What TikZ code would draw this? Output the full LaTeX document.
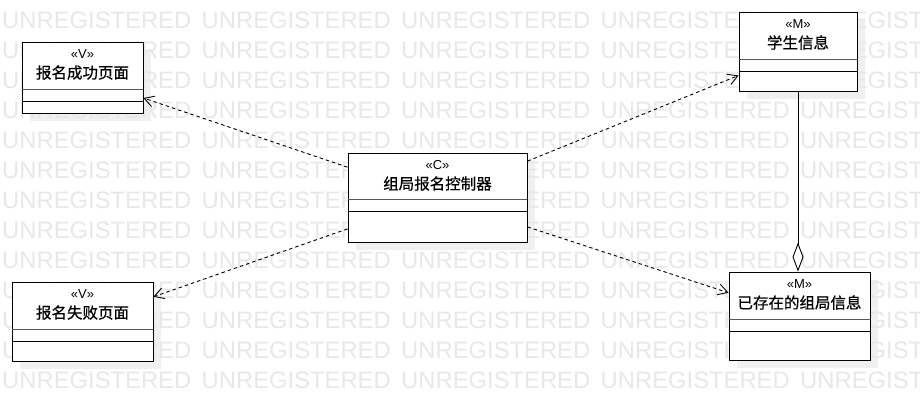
\documentclass[tikz,border=0pt]{standalone}
\usepackage{fontspec}
\setmainfont{Liberation Sans}
\newfontfamily\cjk[FakeBold=0.6]{Noto Sans CJK SC}
\usetikzlibrary{arrows.meta}
\pgfdeclarelayer{bg}
\pgfsetlayers{bg,main}
\tikzset{
  umlbox/.style={draw=black, fill=white, line width=0.9pt, inner sep=0pt, rectangle},
  stereo/.style={font=\fontsize{13}{14}\selectfont, inner sep=0pt, text=black},
  cname/.style={font=\cjk\fontsize{15.5}{17}\selectfont, inner sep=0pt, text=black},
  divA/.style={line width=1.4pt, draw=black!65},
  divB/.style={line width=0.9pt, draw=black},
  shade/.style={fill=black!6},
  wmark/.style={font=\fontsize{23.8}{24}\selectfont, text=black!9, anchor=west, inner sep=0pt},
  dep/.style={draw=black, line width=0.9pt, dash pattern=on 3.5pt off 3pt,
              -{Straight Barb[length=9.5pt,width=11pt,line width=0.9pt]}},
  aggr/.style={draw=black, line width=0.9pt,
              -{Diamond[length=29pt,width=11pt,fill=white,line width=0.9pt]}}
}
% class box: name, centre, width, height, header height, stereotype, title
\newcommand{\classbox}[7]{%
  \node[umlbox, minimum width=#3, minimum height=#4] (#1) at (#2) {};
  \node[stereo] at ([yshift=-12.5pt]#1.north) {#6};
  \node[cname] at ([yshift=-31pt]#1.north) {#7};
  \draw[divA] ([yshift=-#5 pt]#1.north west) -- ([yshift=-#5 pt]#1.north east);
  \draw[divB] ([yshift=-#5 pt-12pt]#1.north west) -- ([yshift=-#5 pt-12pt]#1.north east);
  \begin{pgfonlayer}{bg}
    \fill[shade] ([shift={(8pt,-8pt)}]#1.south west) rectangle ([shift={(8pt,-8pt)}]#1.north east);
  \end{pgfonlayer}
}
\begin{document}
\begin{tikzpicture}[x=1pt, y=-1pt]
  \useasboundingbox (0,0) rectangle (920,411);
  \begin{pgfonlayer}{bg}
    \fill[white] (0,0) rectangle (920,411);
  \end{pgfonlayer}

  \classbox{vok}{82.5,77.5}{121}{71}{48}{«V»}{报名成功页面}
  \classbox{ctl}{437.5,197.5}{179}{89}{47}{«C»}{组局报名控制器}
  \classbox{stu}{798,51.5}{118}{79}{48}{«M»}{学生信息}
  \classbox{grp}{799.5,316}{141}{88}{48}{«M»}{已存在的组局信息}
  \classbox{vfail}{82.5,321.5}{141}{79}{48}{«V»}{报名失败页面}

  % dependencies from the controller
  \draw[dep] (ctl) -- (vok);
  \draw[dep] (ctl) -- (stu);
  \draw[dep] (ctl) -- (vfail);
  \draw[dep] (ctl) -- (grp);

  % aggregation
  \draw[aggr] (stu.south) -- (stu.south |- grp.north);

  % background lettering
  \begin{pgfonlayer}{bg}
    \foreach \r in {0,...,12} {
      \foreach \k in {0,...,4} {
        \node[wmark] at (2+199.5*\k, 20.5+30*\r) {UNREGISTERED};
      }
    }
  \end{pgfonlayer}
\end{tikzpicture}
\end{document}
